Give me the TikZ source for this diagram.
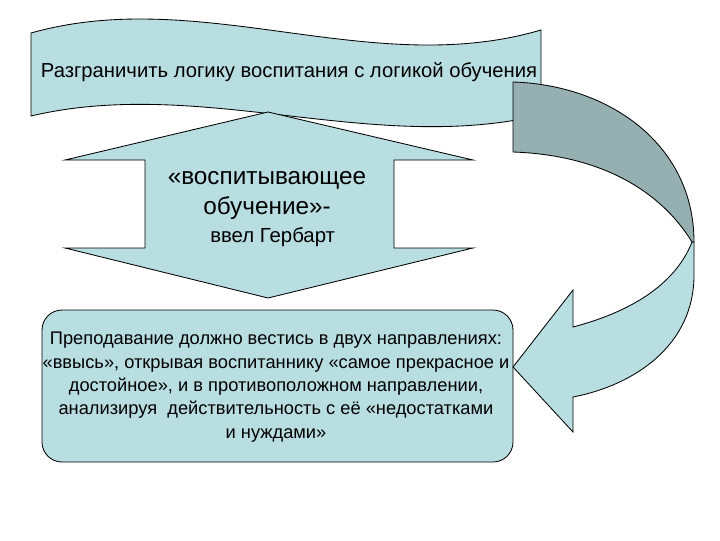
\documentclass[tikz,border=0pt]{standalone}
\usepackage{fontspec}
\setmainfont{Liberation Sans}
\definecolor{lightteal}{RGB}{185,222,226}
\definecolor{grayteal}{RGB}{150,176,178}
\tikzset{
  panel/.style={draw=black, line width=0.6pt, fill=lightteal},
  backface/.style={draw=black, line width=0.6pt, fill=grayteal}
}
\begin{document}
\begin{tikzpicture}[x=0.025cm,y=-0.025cm]
\useasboundingbox (0,0) rectangle (720,540);
\draw[panel] (31,33) .. controls (201,-15) and (371,80) .. (541,30) -- (541,115) .. controls (371,155) and (201,76) .. (31,116) -- cycle;
\node[anchor=base, font=\fontsize{14.4}{17}\selectfont] (goal) at (289,77) {Разграничить логику воспитания с логикой обучения};
\draw[panel] (268,112) -- (473,160) -- (394,160) -- (394,248) -- (473,248) -- (268,298) -- (65,248) -- (145,248) -- (145,160) -- (65,160) -- cycle;
\node[align=center, font=\fontsize{17.3}{21}\selectfont] (term) at (267,209) {«воспитывающее\\обучение»-\\[-1pt]{\fontsize{14.5}{17}\selectfont\ \ ввел Гербарт}};
\draw[panel, rounded corners=0.5cm] (42,310) rectangle (513,462);
\node[align=center, font=\fontsize{13}{16.6}\selectfont] (rule) at (276,387) {Преподавание должно вестись в двух направлениях:\\«ввысь», открывая воспитаннику «самое прекрасное и\\достойное», и в противоположном направлении,\\анализируя \ действительность с её «недостатками\\и нуждами»};
\draw[panel] (694,242) -- (694,275) .. controls (694,345) and (635,385) .. (573,397) -- (573,432) -- (513,367) -- (573,290) -- (573,327) .. controls (630,312) and (675,285) .. (692,242) -- cycle;
\draw[backface] (513,82) .. controls (610,85) and (694,145) .. (694,242) -- (692,242) .. controls (660,190) and (600,155) .. (513,152) -- cycle;
\end{tikzpicture}
\end{document}
